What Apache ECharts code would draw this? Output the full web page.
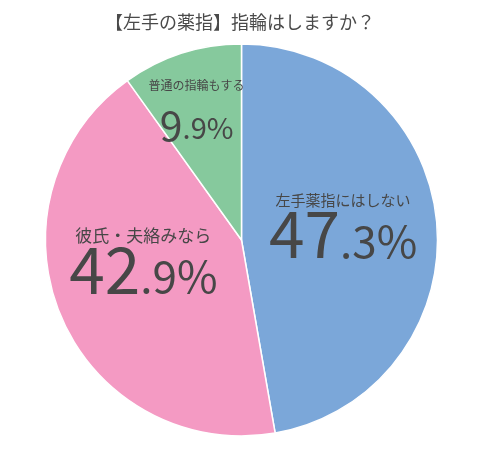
<!DOCTYPE html>
<html>
<head>
<meta charset="utf-8">
<script src="https://cdn.jsdelivr.net/npm/echarts@6/dist/echarts.min.js"></script>
<style>html,body{margin:0;padding:0;background:#fff;}#c{width:484px;height:453px;}</style>
</head>
<body>
<div id="c"></div>
<script>
const titleText = '【左手の薬指】指輪はしますか？';
const categories = ['左手薬指にはしない', '彼氏・夫絡みなら', '普通の指輪もする'];
const values = [47.3, 42.9, 9.9];
const colors = ['#7ba7d9', '#f49ac3', '#86c99d'];

const txt = '#474747';
const font = '"Noto Sans CJK JP", "Noto Sans", sans-serif';
function richFor(nameSize, bigSize, smallSize, bigLH) {
  return {
    n: { fontSize: nameSize, lineHeight: nameSize + 8, color: txt, fontFamily: font, verticalAlign: 'bottom' },
    b: { fontSize: bigSize, lineHeight: bigLH, color: txt, fontFamily: font, verticalAlign: 'bottom' },
    s: { fontSize: smallSize, lineHeight: smallSize, color: txt, fontFamily: font, verticalAlign: 'bottom', padding: [0, 0, 3, 0] }
  };
}
const labelCfg = [
  { offset: [1, -6], rich: richFor(15, 64, 44, 58) },
  { offset: [-5, -19], rich: richFor(17, 64, 44, 58) },
  { offset: [-14, -35], rich: richFor(12, 41, 29, 54) }
];
const data = categories.map((name, i) => ({
  name: name,
  value: values[i],
  itemStyle: { color: colors[i] },
  label: labelCfg[i]
}));

const chart = echarts.init(document.getElementById('c'));
chart.setOption({
  animation: false,
  title: {
    text: titleText, left: 235, top: 8, textAlign: 'center',
    textStyle: { fontSize: 18, fontWeight: 'normal', color: '#4a4a4a', fontFamily: font }
  },
  series: [{
    type: 'pie',
    center: [241.5, 240],
    radius: 196,
    startAngle: 90,
    clockwise: true,
    avoidLabelOverlap: false,
    itemStyle: { borderColor: '#fff', borderWidth: 1.5 },
    label: {
      show: true,
      position: 'inside',
      formatter: function (p) {
        const parts = p.value.toFixed(1).split('.');
        return '{n|' + p.name + '}\n{b|' + parts[0] + '}{s|.' + parts[1] + '%}';
      }
    },
    labelLine: { show: false },
    emphasis: { disabled: true },
    data: data
  }]
});
</script>
</body>
</html>
